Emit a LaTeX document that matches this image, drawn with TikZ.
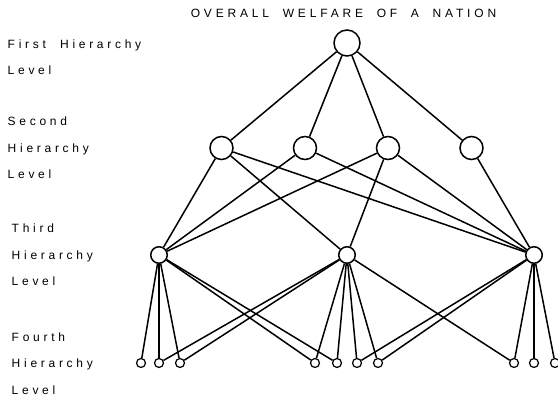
\documentclass[tikz,border=0pt]{standalone}
\usepackage{fontspec}
\setmainfont{Liberation Sans}
\newfontfamily\lblfont[LetterSpace=31, WordSpace=1.3]{Liberation Sans}
\newfontfamily\ttlfont[LetterSpace=32, WordSpace=1.9]{Liberation Sans}
\usetikzlibrary{positioning}

\begin{document}
\begin{tikzpicture}[x=1pt, y=-1pt, line width=1.5pt]
    % Parameters
    \def\yA{43}
    \def\yB{148}
    \def\yC{255}
    \def\yD{363}
    \def\dl{26.5}
    \tikzset{
        lbl/.style={anchor=base west, inner sep=0pt, font=\lblfont\fontsize{12}{14}\selectfont},
        bignode/.style={circle, draw, fill=white, inner sep=0pt, minimum size=26pt},
        secnode/.style={circle, draw, fill=white, inner sep=0pt, minimum size=23pt},
        thinode/.style={circle, draw, fill=white, inner sep=0pt, minimum size=16.5pt},
        leafnode/.style={circle, draw, fill=white, inner sep=0pt, minimum size=9pt, line width=1.2pt}
    }
    \useasboundingbox (0,0) rectangle (558,401);

    % Title
    \node[lbl, font=\ttlfont\fontsize{12}{14}\selectfont] (title) at (190, 17.5) {OVERALL WELFARE OF A NATION};

    % Level labels
    \foreach \txt [count=\k] in {{First \hspace{5pt}Hierarchy}, Level}
        \node[lbl] (first\k) at (7, {\yA+1+4.5+(\k-1)*\dl}) {\txt};
    \foreach \txt [count=\k] in {Second, Hierarchy, Level}
        \node[lbl] (second\k) at (7, {\yB-\dl+4.5+(\k-1)*\dl}) {\txt};
    \foreach \txt [count=\k] in {Third, Hierarchy, Level}
        \node[lbl] (third\k) at (11, {\yC-\dl+4.5+(\k-1)*\dl}) {\txt};
    \foreach \txt [count=\k] in {Fourth, Hierarchy, Level}
        \node[lbl] (fourth\k) at (11, {\yD-\dl+5+(\k-1)*\dl}) {\txt};

    % Top node
    \node[bignode] (T) at (347, \yA) {};

    % Second level
    \node[secnode] (S1) at (221.5, \yB) {};
    \node[secnode] (S2) at (305, \yB) {};
    \node[secnode] (S3) at (388, \yB) {};
    \node[secnode] (S4) at (471.5, \yB) {};

    % Third level
    \node[thinode] (L1) at (159, \yC) {};
    \node[thinode] (L2) at (347, \yC) {};
    \node[thinode] (L3) at (534, \yC) {};

    % Fourth level
    \foreach \x [count=\i] in {141,159,180,315,337,357,378,514,534,555}
        \node[leafnode] (F\i) at (\x, \yD) {};

    % Connections: top to second level
    \foreach \j in {1,...,4}
        \draw (T) -- (S\j);

    % Second to third level
    \draw (S1) -- (L1);
    \draw (S1) -- (L2);
    \draw (S1) -- (L3);
    \draw (S2) -- (L1);
    \draw (S2) -- (L3);
    \draw (S3) -- (L1);
    \draw (S3) -- (L2);
    \draw (S3) -- (L3);
    \draw (S4) -- (L3);

    % Third to fourth level
    \foreach \i in {1,...,5}
        \draw (L1) -- (F\i);
    \foreach \i in {2,...,8}
        \draw (L2) -- (F\i);
    \foreach \i in {6,...,10}
        \draw (L3) -- (F\i);

\end{tikzpicture}
\end{document}
